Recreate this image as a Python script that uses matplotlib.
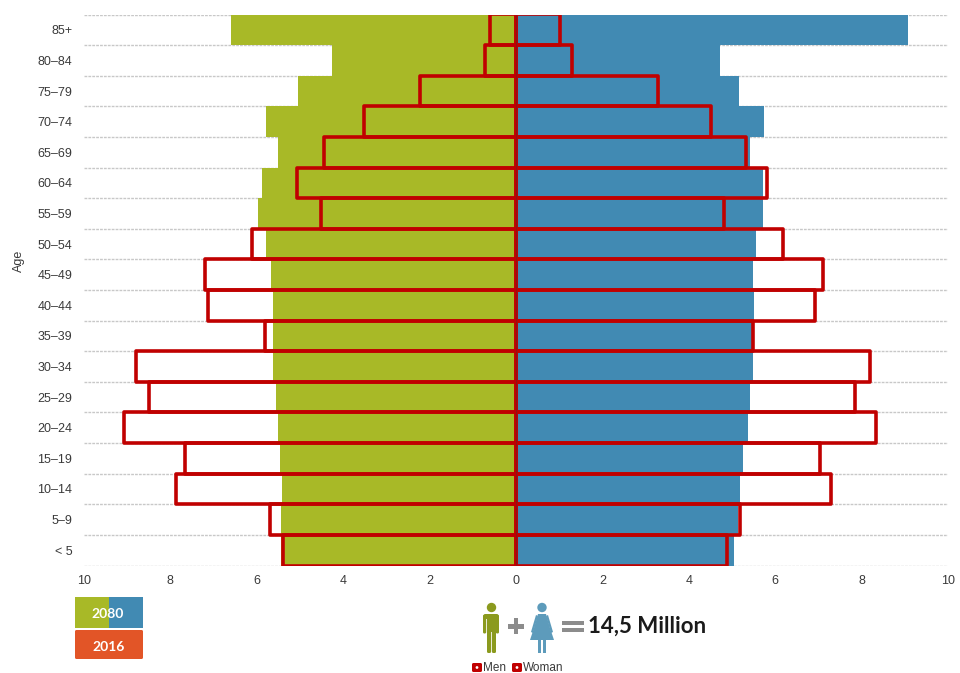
import numpy as np
import matplotlib
matplotlib.use('Agg')
import matplotlib.pyplot as plt
from matplotlib.patches import Circle, FancyBboxPatch, Polygon, Rectangle

ages = ['< 5', '5–9', '10–14', '15–19', '20–24', '25–29', '30–34', '35–39', '40–44',
        '45–49', '50–54', '55–59', '60–64', '65–69', '70–74', '75–79', '80–84', '85+']
men_2080 = [5.44, 5.44, 5.42, 5.46, 5.51, 5.56, 5.62, 5.62, 5.62,
            5.67, 5.79, 5.97, 5.88, 5.51, 5.79, 5.05, 4.26, 6.6]
women_2080 = [5.05, 5.14, 5.19, 5.25, 5.37, 5.42, 5.49, 5.46, 5.51,
              5.49, 5.56, 5.72, 5.72, 5.42, 5.74, 5.17, 4.72, 9.07]
men_2016 = [5.39, 5.69, 7.87, 7.66, 9.07, 8.5, 8.8, 5.81, 7.13,
            7.2, 6.11, 4.51, 5.07, 4.44, 3.52, 2.22, 0.72, 0.6]
women_2016 = [4.88, 5.19, 7.29, 7.04, 8.33, 7.85, 8.19, 5.49, 6.92,
              7.11, 6.18, 4.81, 5.8, 5.32, 4.51, 3.29, 1.3, 1.02]
xticks = [-10, -8, -6, -4, -2, 0, 2, 4, 6, 8, 10]

GREEN = '#a8b927'
BLUE = '#418ab3'
RED = '#c00000'
ORANGE = '#e25527'
TEXT = '#3a3a3a'

plt.rcParams['font.family'] = ['Liberation Sans', 'DejaVu Sans']

W, H = 960, 673
fig = plt.figure(figsize=(W / 100, H / 100), dpi=100)
ax = fig.add_axes([84 / W, 1 - 565.5 / H, 864 / W, 551 / H])

y = np.arange(len(ages))
ax.barh(y, -np.array(men_2080), height=1.0, color=GREEN, zorder=2)
ax.barh(y, women_2080, height=1.0, color=BLUE, zorder=2)
ax.barh(y, -np.array(men_2016), height=1.0, facecolor='none', edgecolor=RED,
        linewidth=2.6, joinstyle='round', zorder=3)
ax.barh(y, women_2016, height=1.0, facecolor='none', edgecolor=RED,
        linewidth=2.6, joinstyle='round', zorder=3)
ax.axvline(0, color='#7d1c1c', lw=0.6, zorder=4)

ax.set_xlim(-10, 10)
ax.set_ylim(-0.5, len(ages) - 0.5)
ax.set_xticks(xticks)
ax.set_xticklabels([str(abs(t)) for t in xticks])
ax.set_yticks(y)
ax.set_yticklabels(ages)
ax.tick_params(length=0, labelsize=9, labelcolor=TEXT)
ax.tick_params(axis='x', pad=7)
ax.tick_params(axis='y', pad=8.5)
ax.set_ylabel('Age', fontsize=9, color=TEXT, labelpad=8.5, y=0.553)

# dotted separators between the age bands
for edge in np.arange(len(ages) + 1) - 0.5:
    ax.axhline(edge, color='#c8c8c8', lw=1.0, ls=(0, (2, 0.8)), zorder=1)
for side in ax.spines.values():
    side.set_visible(False)

# everything below the axes is placed in pixels
over = fig.add_axes([0, 0, 1, 1])
over.set_xlim(0, W)
over.set_ylim(H, 0)
over.axis('off')
over.patch.set_alpha(0)

# year key
over.add_patch(Rectangle((75, 597), 33.5, 31, color=GREEN, lw=0))
over.add_patch(Rectangle((108.5, 597), 34.5, 31, color=BLUE, lw=0))
over.text(108, 613.5, '2080', color='white', fontsize=10, fontweight='bold',
          family='Lato', ha='center', va='center')
over.add_patch(FancyBboxPatch((75, 630), 68, 29, boxstyle='round,pad=0,rounding_size=1.5',
                              color=ORANGE, lw=0))
over.text(109, 647, '2016', color='white', fontsize=10, fontweight='bold',
          family='Lato', ha='center', va='center')

# man figure
c_man = '#8b9a1e'
over.add_patch(Circle((491.5, 607.5), 4.7, color=c_man, lw=0))
over.add_patch(FancyBboxPatch((487, 614), 9, 18, boxstyle='round,pad=0,rounding_size=1.5', color=c_man, lw=0))
over.add_patch(FancyBboxPatch((483, 614), 16, 5, boxstyle='round,pad=0,rounding_size=2.4', color=c_man, lw=0))
over.add_patch(FancyBboxPatch((483, 615), 3.2, 18.5, boxstyle='round,pad=0,rounding_size=1.4', color=c_man, lw=0))
over.add_patch(FancyBboxPatch((495.8, 615), 3.2, 18.5, boxstyle='round,pad=0,rounding_size=1.4', color=c_man, lw=0))
over.add_patch(FancyBboxPatch((487, 630), 4.1, 23, boxstyle='round,pad=0,rounding_size=1.4', color=c_man, lw=0))
over.add_patch(FancyBboxPatch((491.9, 630), 4.1, 23, boxstyle='round,pad=0,rounding_size=1.4', color=c_man, lw=0))

# woman figure
c_woman = '#5d9bbb'
over.add_patch(Circle((542, 607.5), 4.7, color=c_woman, lw=0))
over.add_patch(Polygon([(538, 614), (546, 614), (550, 628), (554, 640), (530, 640), (534, 628)],
                       color=c_woman, lw=0))
over.add_patch(Polygon([(536, 615), (538, 616), (533, 633), (531, 632)], color=c_woman, lw=0))
over.add_patch(Polygon([(548, 615), (546, 616), (551, 633), (553, 632)], color=c_woman, lw=0))
over.add_patch(Rectangle((538, 639), 2.8, 14, color=c_woman, lw=0))
over.add_patch(Rectangle((543.2, 639), 2.8, 14, color=c_woman, lw=0))

# plus and equals signs
c_sign = '#8c8c8c'
over.add_patch(Rectangle((508, 624), 16, 4.5, color=c_sign, lw=0))
over.add_patch(Rectangle((513.8, 618), 4.5, 16, color=c_sign, lw=0))
over.add_patch(Rectangle((562, 621), 22, 4.2, color=c_sign, lw=0))
over.add_patch(Rectangle((562, 628), 22, 4.2, color=c_sign, lw=0))
over.text(588.5, 626, '14,5 Million', fontsize=16, fontweight='bold', family='Lato',
          color='#1a1a1a', ha='left', va='center')

# series key
for px, label in [(477, 'Men'), (517, 'Woman')]:
    over.add_patch(FancyBboxPatch((px - 5, 663), 10, 9, boxstyle='round,pad=0,rounding_size=1.5',
                                  color=RED, lw=0))
    over.add_patch(Circle((px, 667.5), 1.4, color='white', lw=0))
    over.text(px + 6, 668, label, fontsize=8.5, color=TEXT, ha='left', va='center')

fig.savefig('out.png', dpi=100)
